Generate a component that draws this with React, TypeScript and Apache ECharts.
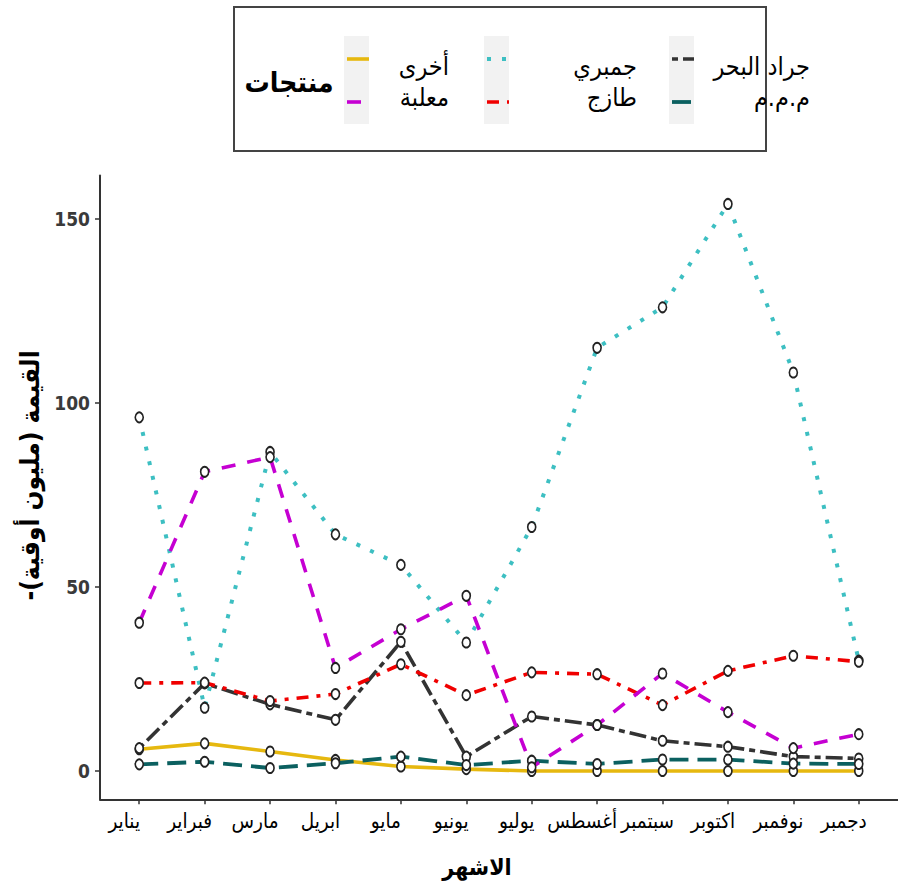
import React, { useEffect, useRef } from "react";
import * as echarts from "echarts";

// ---- data ----
const months = ["يناير", "فبراير", "مارس", "ابريل", "مايو", "يونيو", "يوليو", "أغسطس", "سبتمبر", "اكتوبر", "نوفمبر", "دجمبر"];
const yTicks = [0, 50, 100, 150];
const other = [5.9, 7.5, 5.3, 3.0, 1.2, 0.5, 0, 0, 0, 0, 0, 0]; // أخرى
const lobster = [6.2, 23.8, 18.1, 13.9, 35.1, 3.9, 14.8, 12.5, 8.2, 6.6, 3.9, 3.4]; // جراد البحر
const shrimp = [96.1, 17.2, 86.7, 64.3, 56.0, 34.9, 66.3, 115.0, 126.0, 154.1, 108.3, 30.0]; // جمبري
const fresh = [23.9, 24.0, 19.0, 20.9, 29.0, 20.6, 26.8, 26.3, 17.9, 27.2, 31.3, 29.7]; // طازج
const mmm = [1.8, 2.5, 0.8, 2.1, 3.9, 1.6, 2.8, 1.9, 3.1, 3.1, 2.0, 1.9]; // م.م.م
const canned = [40.3, 81.3, 85.3, 28.0, 38.5, 47.6, 1.0, 12.5, 26.5, 16.0, 6.2, 10.0]; // معلبة

const seriesNames = ["أخرى", "جراد البحر", "جمبري", "طازج", "م.م.م", "معلبة"];
const seriesValues = [other, lobster, shrimp, fresh, mmm, canned];

// ---- styles ----
const styles: { color: string; dash: any; width: number }[] = [
  { color: "#E6B80F", dash: "solid", width: 3.6 },
  { color: "#333333", dash: [6, 5, 17, 5], width: 3.6 },
  { color: "#3DBFC2", dash: [4, 11], width: 4 },
  { color: "#F00000", dash: [12, 8, 4, 8], width: 3.6 },
  { color: "#0B6060", dash: [19, 9], width: 3.8 },
  { color: "#C500D2", dash: [14, 12], width: 3.6 },
];

const AR = "'DejaVu Sans Condensed', 'DejaVu Sans', sans-serif";

export default function App() {
  const ref = useRef<HTMLDivElement>(null);
  useEffect(() => {
    if (!ref.current) return;
    const chart = echarts.init(ref.current, null, { renderer: "svg" });

    const lineSeries = seriesValues.map((vals, i) => ({
      type: "line",
      name: seriesNames[i],
      data: vals.map((v, j) => [j + 1, v]),
      symbol: "none",
      z: 2 + i * 0.01,
      lineStyle: { color: styles[i].color, width: styles[i].width, type: styles[i].dash, cap: "butt" },
    }));
    const pointSeries = seriesValues.map((vals, i) => ({
      type: "scatter",
      name: seriesNames[i] + " ",
      data: vals.map((v, j) => [j + 1, v]),
      symbol: "circle",
      symbolSize: [8, 10],
      z: 5,
      itemStyle: { color: "#ffffff", borderColor: "#222222", borderWidth: 1.8, opacity: 1 },
    }));

    // legend graphic
    const legendGraphic: any[] = [
      { type: "rect", shape: { x: 234, y: 7, width: 532, height: 144 }, style: { fill: "#fff", stroke: "#444", lineWidth: 2 } },
      {
        type: "text", x: 289, y: 82,
        style: { text: "منتجات", fontFamily: AR, fontWeight: "bold", fontSize: 28, fill: "#000", align: "center", verticalAlign: "middle" },
      },
    ];
    const cols = [
      { rectX: 344, labelRight: 449, items: [0, 5] },
      { rectX: 484, labelRight: 637, items: [2, 3] },
      { rectX: 669, labelRight: 810, items: [1, 4] },
    ];
    const rowsY = [59, 102];
    const labelY = [66, 97];
    cols.forEach((c) => {
      legendGraphic.push({ type: "rect", shape: { x: c.rectX, y: 36, width: 25, height: 88 }, style: { fill: "#F2F2F2" } });
      c.items.forEach((si, r) => {
        const st = styles[si];
        legendGraphic.push({
          type: "line",
          shape: { x1: c.rectX + 3, y1: rowsY[r], x2: c.rectX + 25, y2: rowsY[r] },
          style: { stroke: st.color, lineWidth: st.width, lineDash: st.dash === "solid" ? null : st.dash, lineCap: "butt" },
        });
        legendGraphic.push({
          type: "text", x: c.labelRight, y: labelY[r],
          style: { text: seriesNames[si], fontFamily: AR, fontSize: 25, fill: "#000", align: "right", verticalAlign: "middle" },
        });
      });
    });

    chart.setOption({
      animation: false,
      backgroundColor: "#ffffff",
      grid: { left: 100, top: 175.6, width: 800, height: 623.7, containLabel: false },
      xAxis: {
        type: "value",
        min: 0.4,
        max: 12.6,
        name: "الاشهر",
        nameLocation: "middle",
        nameGap: 56,
        nameTextStyle: { fontFamily: AR, fontWeight: "bold", fontSize: 23, color: "#000", padding: [0, 44, 0, 0] },
        axisLine: { show: true, onZero: false, lineStyle: { color: "#333", width: 2 } },
        axisTick: { show: true, length: 5, lineStyle: { color: "#333", width: 1.5 }, customValues: months.map((_, i) => i + 1) },
        axisLabel: {
          customValues: months.map((_, i) => i + 1),
          formatter: (v: number) => months[Math.round(v) - 1] ?? "",
          fontFamily: AR,
          fontSize: 20.5,
          color: "#000",
          margin: 11,
          padding: [0, 30, 0, 0],
        },
        splitLine: { show: false },
      },
      yAxis: {
        type: "value",
        min: -7.7,
        max: 161.8,
        name: "\u202Bالقيمة (مليون أوقية)-\u202C",
        nameLocation: "middle",
        nameRotate: 90,
        nameGap: 55,
        nameTextStyle: { fontFamily: AR, fontWeight: "bold", fontSize: 26, color: "#000", padding: [0, 0, 0, 24] },
        axisLine: { show: true, onZero: false, lineStyle: { color: "#333", width: 2 } },
        axisTick: { show: true, length: 5, lineStyle: { color: "#333", width: 1.5 }, customValues: yTicks },
        axisLabel: {
          customValues: yTicks,
          fontFamily: "'Liberation Sans Narrow', 'DejaVu Sans Condensed', sans-serif",
          fontWeight: "bold",
          fontSize: 19,
          color: "#3a3a3a",
          margin: 10,
        },
        splitLine: { show: false },
      },
      series: [...lineSeries, ...pointSeries],
      graphic: legendGraphic,
    } as any);

    return () => chart.dispose();
  }, []);
  return <div ref={ref} style={{ position: "fixed", left: 0, top: 0, width: 898, height: 885, background: "#fff" }} />;
}
